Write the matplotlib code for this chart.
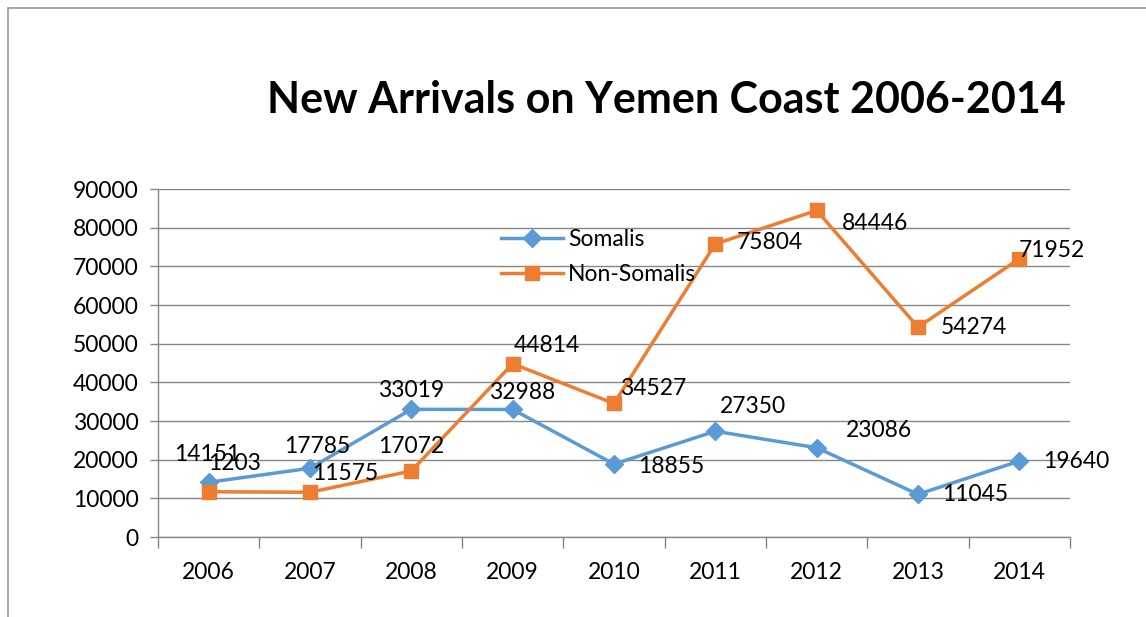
import matplotlib
matplotlib.use("Agg")
import matplotlib.pyplot as plt
from matplotlib.patches import Rectangle

plt.rcParams['font.family'] = ['Lato', 'DejaVu Sans']

years = ['2006', '2007', '2008', '2009', '2010', '2011', '2012', '2013', '2014']
somalis = [14151, 17785, 33019, 32988, 18855, 27350, 23086, 11045, 19640]
non_somalis = [11700, 11575, 17072, 44814, 34527, 75804, 84446, 54274, 71952]
somalis_labels = ['14151', '17785', '33019', '32988', '18855', '27350', '23086', '11045', '19640']
non_somalis_labels = ['1203', '11575', '17072', '44814', '34527', '75804', '84446', '54274', '71952']

# label offsets in pixels (right / up from the point)
som_off = [(-1, 28), (7, 22), (0, 19), (9, 17), (57, -2), (38, 25), (62, 17), (57, 0), (57, 0)]
non_off = [(26, 28), (35, 19), (0, 24), (34, 18), (39, 15), (54, 1), (58, -13), (56, 0), (33, 8)]

blue = '#5B9BD5'
orange = '#ED7D31'
grid = '#868686'
fs = 16.5

fig = plt.figure(figsize=(11.46, 6.17), dpi=100)
ax = fig.add_axes([158/1146, 1 - 537/617, (1070-158)/1146, (537-189)/617])

x = list(range(len(years)))
ax.plot(x, somalis, color=blue, lw=2.5, marker='D', ms=9, label='Somalis', zorder=3)
ax.plot(x, non_somalis, color=orange, lw=2.5, marker='s', ms=10.5, label='Non-Somalis', zorder=3)

for i in x:
    ax.annotate(somalis_labels[i], (i, somalis[i]), xytext=som_off[i], textcoords='offset pixels',
                ha='center', va='center', fontsize=fs, zorder=4)
    ax.annotate(non_somalis_labels[i], (i, non_somalis[i]), xytext=non_off[i], textcoords='offset pixels',
                ha='center', va='center', fontsize=fs, zorder=4)

ax.set_xlim(-0.5, len(years) - 0.5)
ax.set_ylim(0, 90000)
ax.set_yticks(range(0, 90001, 10000))
ax.set_yticklabels([str(v) for v in range(0, 90001, 10000)])
ax.yaxis.grid(True, color=grid, lw=1)
ax.set_axisbelow(True)

ax.set_xticks(x)
ax.set_xticklabels(years)
ax.set_xticks([i - 0.5 for i in range(len(years) + 1)], minor=True)
ax.tick_params(axis='x', which='major', length=0, pad=18, labelsize=fs)
ax.tick_params(axis='x', which='minor', length=8, color=grid, width=1)
ax.tick_params(axis='y', length=6, color=grid, width=1, labelsize=fs, pad=8)

for s in ['top', 'right']:
    ax.spines[s].set_visible(False)
for s in ['left', 'bottom']:
    ax.spines[s].set_color(grid)
    ax.spines[s].set_linewidth(1)

ax.legend(loc='upper left', bbox_to_anchor=((490-158)/912, (189-218)/348 + 1), frameon=False,
          fontsize=fs, handlelength=2.7, handletextpad=0.2, labelspacing=0.6, borderpad=0)

fig.text(666/1146, 1 - 100/617, 'New Arrivals on Yemen Coast 2006-2014', ha='center', va='center',
         fontsize=31, fontweight='bold')

fig.patches.append(Rectangle((8/1146, -0.5), 2, 1.5 - 8/617, transform=fig.transFigure,
                             fill=False, edgecolor='#999999', lw=1.2))

fig.savefig('out.png', dpi=100)
